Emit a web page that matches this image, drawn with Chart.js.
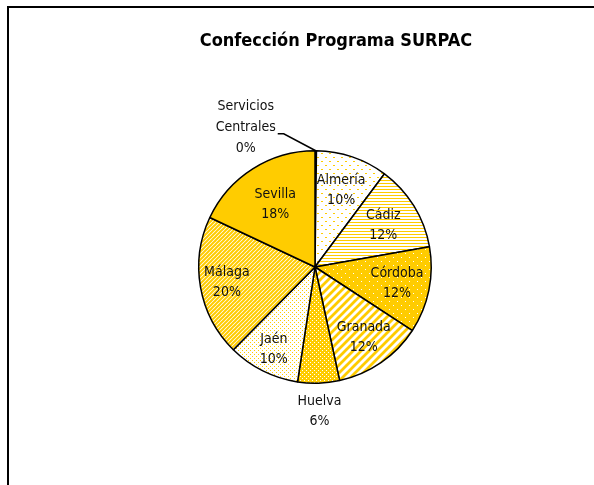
<!DOCTYPE html>
<html>
<head>
<meta charset="utf-8">
<title>Confección Programa SURPAC</title>
<script src="https://cdn.jsdelivr.net/npm/chart.js@4.4.1/dist/chart.umd.min.js"></script>
<style>
    html, body { margin: 0; padding: 0; background: #fff; }
    #wrap { position: relative; width: 594px; height: 485px; }
</style>
</head>
<body>
<div id="wrap"><canvas id="surpacPie"></canvas></div>
<script>
// Confección Programa SURPAC - reparto por provincia
const provincias = ['Servicios Centrales', 'Almería', 'Cádiz', 'Córdoba', 'Granada', 'Huelva', 'Jaén', 'Málaga', 'Sevilla'];
const porcentajes = [0.2, 10, 12, 12, 12.4, 5.8, 10, 19.6, 18];
const tituloGrafico = 'Confección Programa SURPAC';

const ORO = '#FFCC00';
const FUENTE = "'Liberation Sans Narrow', 'DejaVu Sans Condensed', 'Arial Narrow', sans-serif";

// distancia de cada etiqueta al centro (fraccion del radio)
const radioEtiqueta = [null, 0.70, 0.69, 0.72, 0.74, 1.24, 0.79, 0.77, 0.64];

// rellenos con trama, como en Excel
function patron(tam, dibujar) {
    const c = document.createElement('canvas');
    c.width = tam; c.height = tam;
    const g = c.getContext('2d');
    dibujar(g, tam);
    return g.createPattern(c, 'repeat');
}
function puntos(fondo, punto, tam, lista, w, h) {
    return patron(tam, function(g, s) {
        g.fillStyle = fondo; g.fillRect(0, 0, s, s);
        g.fillStyle = punto;
        lista.forEach(p => g.fillRect(p[0], p[1], w || 1, h || 1));
    });
}
function diagonal(tam, grosor) {
    return patron(tam, function(g, s) {
        g.fillStyle = '#fff'; g.fillRect(0, 0, s, s);
        g.strokeStyle = ORO; g.lineWidth = grosor;
        g.beginPath();
        g.moveTo(0, s); g.lineTo(s, 0);
        g.moveTo(-s / 2, s / 2); g.lineTo(s / 2, -s / 2);
        g.moveTo(s / 2, s * 1.5); g.lineTo(s * 1.5, s / 2);
        g.stroke();
    });
}
const rayasH = patron(3, function(g) {
    g.fillStyle = '#fff'; g.fillRect(0, 0, 3, 3);
    g.fillStyle = ORO; g.fillRect(0, 0, 3, 1);
});

const rellenos = [
    '#ffffff',                                        // Servicios Centrales
    puntos('#fff', ORO, 8, [[1, 1], [5, 5]], 2, 1),   // Almería
    rayasH,                                           // Cádiz
    puntos(ORO, '#fff', 8, [[1, 1], [5, 5]]),         // Córdoba
    diagonal(8, 2.8),                                 // Granada
    puntos(ORO, '#fff', 4, [[0, 0], [2, 2]]),         // Huelva
    puntos('#fff', ORO, 4, [[0, 0], [2, 2]]),         // Jaén
    diagonal(4, 2),                                   // Málaga
    ORO                                               // Sevilla
];

const total = porcentajes.reduce((a, b) => a + b, 0);

// marco y titulo
const marcoPlugin = {
    id: 'marco',
    beforeDraw(chart) {
        const ctx = chart.ctx;
        ctx.save();
        ctx.fillStyle = '#000';
        ctx.fillRect(7, 6, 2, chart.height);
        ctx.fillRect(7, 6, chart.width, 2);
        ctx.font = 'bold 18px ' + FUENTE;
        ctx.textAlign = 'center';
        ctx.textBaseline = 'alphabetic';
        ctx.fillText(tituloGrafico, 336, 46);
        ctx.restore();
    }
};

// etiquetas: nombre y porcentaje
const etiquetasPlugin = {
    id: 'etiquetas',
    afterDatasetsDraw(chart) {
        const ctx = chart.ctx;
        const meta = chart.getDatasetMeta(0);
        ctx.save();
        ctx.font = '14px ' + FUENTE;
        ctx.fillStyle = '#111';
        ctx.textAlign = 'center';
        ctx.textBaseline = 'middle';
        meta.data.forEach(function(arc, i) {
            const p = arc.getProps(['x', 'y', 'startAngle', 'endAngle', 'outerRadius'], true);
            const mid = (p.startAngle + p.endAngle) / 2;
            const pct = Math.round(porcentajes[i] / total * 100) + '%';
            if (radioEtiqueta[i] === null) {
                // porcion minima: etiqueta fuera con linea guia
                const ex = p.x + Math.cos(mid) * p.outerRadius;
                const ey = p.y + Math.sin(mid) * p.outerRadius;
                ctx.strokeStyle = '#000';
                ctx.lineWidth = 1.5;
                ctx.beginPath();
                ctx.moveTo(ex, ey);
                ctx.lineTo(ex - 32, ey - 17);
                ctx.lineTo(ex - 38, ey - 17);
                ctx.stroke();
                const lineas = provincias[i].split(' ').concat([pct]);
                const cx = ex - 70, cy = ey - 23;
                lineas.forEach((t, k) => ctx.fillText(t, cx, cy + (k - 1) * 21));
                return;
            }
            const r = p.outerRadius * radioEtiqueta[i];
            const cx = p.x + Math.cos(mid) * r;
            const cy = p.y + Math.sin(mid) * r;
            ctx.fillText(provincias[i], cx, cy - 10);
            ctx.fillText(pct, cx, cy + 10);
        });
        ctx.restore();
    }
};

const ctx = document.getElementById('surpacPie').getContext('2d');
new Chart(ctx, {
    type: 'pie',
    data: {
        labels: provincias,
        datasets: [{
            data: porcentajes,
            backgroundColor: rellenos,
            borderColor: '#000',
            borderWidth: 1.5,
            hoverOffset: 0
        }]
    },
    options: {
        responsive: true,
        maintainAspectRatio: false,
        animation: false,
        layout: {
            padding: { left: 198, right: 162, top: 150, bottom: 101 }
        },
        plugins: {
            legend: { display: false },
            title: { display: false },
            tooltip: { enabled: false }
        }
    },
    plugins: [marcoPlugin, etiquetasPlugin]
});
</script>
</body>
</html>
